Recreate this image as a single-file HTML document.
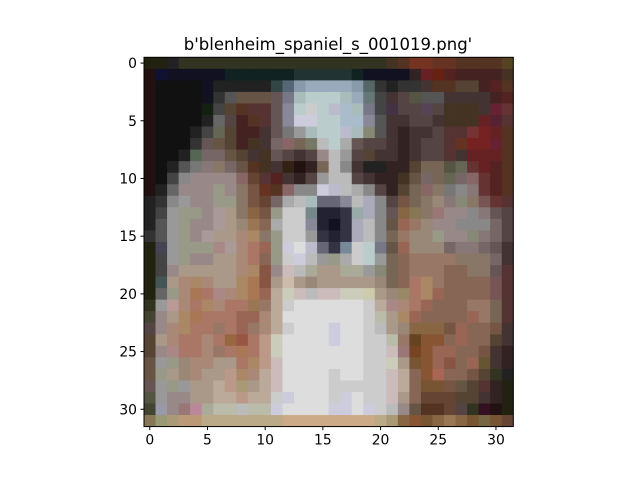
<!DOCTYPE html>
<html><head><meta charset="utf-8"><style>
html,body{margin:0;padding:0;background:#fff;}
svg{display:block;font-family:"DejaVu Sans","Liberation Sans",sans-serif;}
</style></head><body>
<svg id="chart" width="640" height="480" viewBox="0 0 640 480" xmlns="http://www.w3.org/2000/svg">
<rect width="640" height="480" fill="#fff"/>
<text x="328" y="50" text-anchor="middle" font-size="16.5" fill="#000">b'blenheim_spaniel_s_001019.png'</text>
<g id="cells"></g>
<g id="axes"></g>
</svg>
<script>
const pixelRows = [
"221 221 222 332 332 332 332 332 332 332 332 332 332 332 332 332 332 332 332 332 332 432 532 732 732 632 632 532 532 532 532 542",
"211 113 112 112 112 112 112 122 122 122 122 122 122 233 233 233 233 233 122 112 112 112 112 322 622 621 522 422 422 422 422 432",
"211 111 111 111 111 112 222 222 222 222 222 344 567 89a 9ab 9ab 9ab 9ab 89a 566 333 222 333 333 433 532 532 543 543 422 522 532",
"211 111 111 111 111 112 333 555 654 654 654 655 778 abb bcc bcc bcc abb 9ab 677 444 433 544 554 555 555 433 433 433 433 422 522",
"211 111 111 111 111 121 444 543 532 533 533 655 889 bcc ccc bcc bbc abc abb 778 444 434 544 544 545 544 432 432 432 433 623 633",
"211 111 111 111 111 222 666 544 422 532 533 655 889 ccd ccd bcc bcc abc abc 889 555 433 433 544 544 433 432 432 432 622 523 533",
"211 111 111 111 222 444 665 543 422 422 433 655 777 999 abb bcc bcc bbc abb 887 555 433 322 433 433 544 533 533 733 722 622 532",
"211 111 111 111 333 655 654 543 422 432 433 766 866 765 776 bbb bcc aaa 655 544 544 433 322 433 544 544 533 632 722 722 623 532",
"211 111 111 222 565 766 766 654 543 433 432 655 544 433 544 988 bbb 999 544 543 433 433 322 433 544 544 533 433 622 622 622 532",
"211 111 222 555 777 877 876 766 654 532 432 433 321 211 322 765 bbb 888 433 222 222 322 322 543 765 765 554 665 633 622 522 532",
"211 111 444 888 988 988 988 988 866 643 533 522 433 322 544 999 bbb bbb 544 433 322 322 432 654 766 765 665 766 866 633 522 532",
"211 222 666 988 988 988 998 988 876 754 632 532 866 888 888 ccd bbc bbb aaa 888 544 322 543 765 866 876 777 888 877 633 522 532",
"222 333 888 999 988 988 998 998 876 754 643 766 aaa bbb abb 667 667 889 bbb aab 888 544 754 765 876 987 877 887 876 755 633 533",
"222 444 999 998 998 988 a99 a98 876 864 754 998 ccc ccc 788 223 223 334 9aa aab 888 655 864 875 876 977 988 988 888 877 655 544",
"222 555 999 998 988 988 a99 a98 987 975 865 aaa ccc ccc 889 223 112 334 aab bbb 888 654 965 976 987 988 988 888 888 888 766 544",
"333 555 999 998 988 a99 a98 a98 a87 a86 876 998 ccc ccc 999 334 223 334 aab bbb 888 765 976 987 987 998 988 988 887 877 766 544",
"221 445 999 998 998 998 a88 a99 a87 a76 965 998 ccd ddd bbc 667 334 789 ccc bcc 778 654 965 987 987 987 766 877 877 766 655 433",
"221 444 999 998 988 988 a98 a98 a87 a76 865 998 ccc ccd bbb 999 998 aaa ccc bcc 999 765 865 976 976 976 976 876 876 876 766 433",
"221 444 988 a98 a98 a98 a98 a98 a87 a86 854 988 cbb bbb aa9 a98 a98 aa9 aa9 999 887 765 865 976 976 976 865 865 876 876 655 533",
"221 455 a98 a87 a86 a87 a98 a98 a86 a75 854 a98 cba a98 987 a98 a98 a98 a98 a98 987 765 865 a76 a86 976 865 865 865 865 755 533",
"221 666 998 a87 a75 a76 a88 a87 a86 a75 965 ba9 ccb cbb bbb cbb cbb ccb ccb cca a98 987 986 a76 a86 965 865 865 865 865 755 533",
"332 999 b99 a87 a76 a86 a87 a76 a76 975 976 ba9 ccc ddd ddd ddd ddd ddd ddd ccc ba9 a88 a87 a76 965 865 865 865 976 976 765 533",
"443 988 a98 a86 a75 a76 a76 a76 965 965 a87 ba9 ddd ddd ddd ddd ddd ddd ddd ccc bba a98 a86 965 865 865 865 865 965 976 765 533",
"544 988 a87 a86 a76 a76 976 a76 965 976 a87 ba9 ccc ddd ddd ddd ccd ddd ddd ccc bbb a98 987 864 864 864 754 965 865 865 754 433",
"543 a98 a87 a76 a76 a87 a76 964 954 a76 b98 ccb ddd ddd ddd ddd ccd ddd ddd ccc ccc bba 976 642 853 853 865 965 865 865 543 433",
"543 988 a88 a76 a76 a87 976 a76 a75 a76 b98 ccb ddd ddd ddd ddd ddd ddd ddd ccc ccc cbb 977 742 853 965 965 865 865 754 433 322",
"654 999 998 987 a87 a87 a98 a98 a76 a86 b98 cbb ddd ddd ddd ddd ddd ddd ddd ccc ccc ccb a98 753 853 965 854 865 965 653 433 322",
"654 998 a98 987 a87 a98 a98 b98 a86 a87 ba9 cbb ddd ddd ddd ddd ccc ddd ddd ccc ccc cbb ba9 865 853 a65 865 865 754 543 332 222",
"655 999 998 999 a98 a98 ba9 b98 a97 a98 ba9 cbb ddd ddd ddd ddd ccc ccc ccc ccc ccc cbb ba9 865 753 753 754 654 543 533 322 221",
"554 999 988 988 a98 a98 ba9 ba9 b98 ba9 ba9 ccc ccd ddd ddd ddd ccc ccd ddd ccc ccc cbb a98 865 643 643 643 543 543 433 322 221",
"443 99a 988 977 b89 aa9 bba bba bbb bba bba ccd ddd ddd ddd ddd ccd ccd ddd ccd ccc bbb 988 654 532 532 643 544 332 312 211 221",
"875 997 a97 b97 b97 ba8 ba8 ba8 ba8 ba8 ba8 ba8 ca8 ca8 ca8 ca8 ca8 ca8 ca8 ca8 ba8 a97 864 853 753 864 975 864 753 764 753 643"
];
const xTicks = [0,5,10,15,20,25,30];
const yTicks = [0,5,10,15,20,25,30];

const NS = "http://www.w3.org/2000/svg";
const plotLeft = 144, plotTop = 57.3, cellSize = 11.54;
const nRows = pixelRows.length, nCols = 32;
function xScale(c){ return plotLeft + (c + 0.5) * cellSize; }
function yScale(r){ return plotTop + (r + 0.5) * cellSize; }

const cellsG = document.getElementById('cells');
pixelRows.forEach((row, r) => {
  row.split(' ').forEach((col, c) => {
    const rect = document.createElementNS(NS, 'rect');
    rect.setAttribute('x', (xScale(c) - cellSize/2).toFixed(2));
    rect.setAttribute('y', (yScale(r) - cellSize/2).toFixed(2));
    rect.setAttribute('width', (cellSize + 0.4).toFixed(2));
    rect.setAttribute('height', (cellSize + 0.4).toFixed(2));
    rect.setAttribute('fill', '#' + col);
    
    
    cellsG.appendChild(rect);
  });
});

const axesG = document.getElementById('axes');
const plotRight = plotLeft + nCols * cellSize, plotBottom = plotTop + nRows * cellSize;
const frame = document.createElementNS(NS, 'rect');
frame.setAttribute('x', plotLeft); frame.setAttribute('y', plotTop);
frame.setAttribute('width', plotRight - plotLeft); frame.setAttribute('height', plotBottom - plotTop);
frame.setAttribute('fill', 'none'); frame.setAttribute('stroke', '#000'); frame.setAttribute('stroke-width', '1');


axesG.appendChild(frame);

xTicks.forEach(t => {
  const x = xScale(t);
  const ln = document.createElementNS(NS, 'line');
  ln.setAttribute('x1', x); ln.setAttribute('x2', x);
  ln.setAttribute('y1', plotBottom); ln.setAttribute('y2', plotBottom + 3.5);
  ln.setAttribute('stroke', '#000');
  
  
  axesG.appendChild(ln);
  const tx = document.createElementNS(NS, 'text');
  tx.setAttribute('x', x); tx.setAttribute('y', plotBottom + 18);
  tx.setAttribute('text-anchor', 'middle'); tx.setAttribute('font-size', '13.9');
  tx.textContent = t;
  
  
  axesG.appendChild(tx);
});
yTicks.forEach(t => {
  const y = yScale(t);
  const ln = document.createElementNS(NS, 'line');
  ln.setAttribute('x1', plotLeft - 3.5); ln.setAttribute('x2', plotLeft);
  ln.setAttribute('y1', y); ln.setAttribute('y2', y);
  ln.setAttribute('stroke', '#000');
  
  
  axesG.appendChild(ln);
  const tx = document.createElementNS(NS, 'text');
  tx.setAttribute('x', plotLeft - 7); tx.setAttribute('y', y + 5);
  tx.setAttribute('text-anchor', 'end'); tx.setAttribute('font-size', '13.9');
  tx.textContent = t;
  
  
  axesG.appendChild(tx);
});
</script>
</body></html>
